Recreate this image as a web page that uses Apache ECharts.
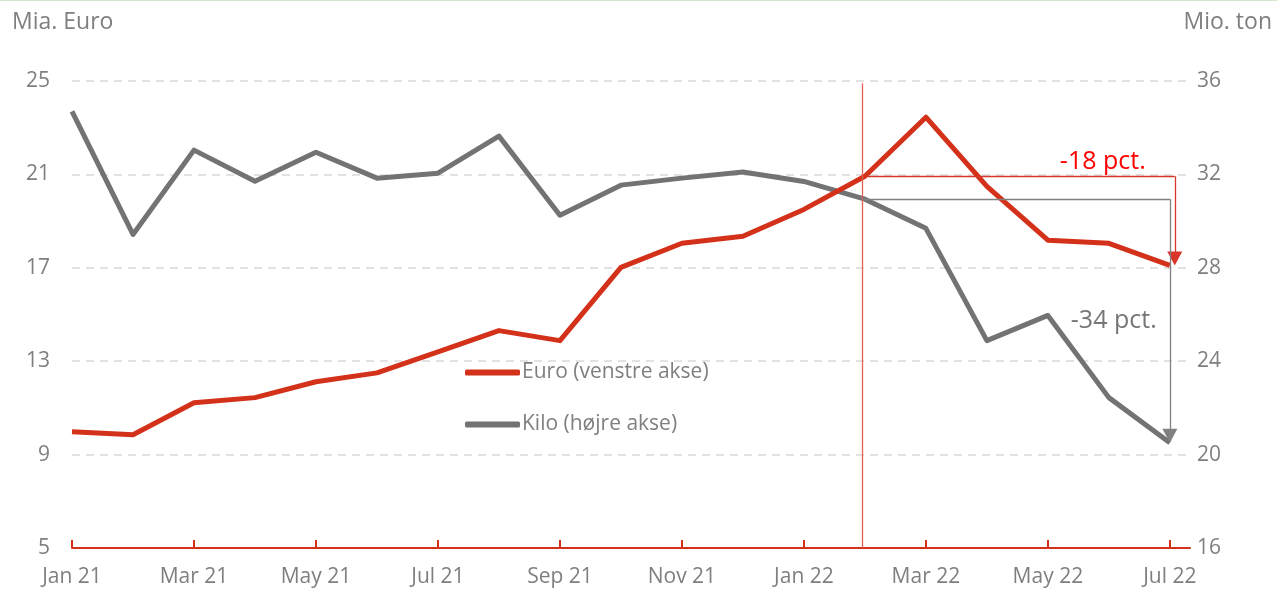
<!DOCTYPE html>
<html>
<head>
<meta charset="utf-8">
<script src="https://cdn.jsdelivr.net/npm/echarts@6/dist/echarts.min.js"></script>
<style>
  html, body { margin: 0; padding: 0; background: #fff; }
  #chart { width: 1277px; height: 589px; border-top: 1px solid #d6e8cb; }
</style>
</head>
<body>
<div id="chart"></div>
<script>
// months on the x axis
const months = ['Jan 21', 'Feb 21', 'Mar 21', 'Apr 21', 'May 21', 'Jun 21', 'Jul 21', 'Aug 21', 'Sep 21',
  'Oct 21', 'Nov 21', 'Dec 21', 'Jan 22', 'Feb 22', 'Mar 22', 'Apr 22', 'May 22', 'Jun 22', 'Jul 22']

// Mia. Euro (venstre akse)
const euro = [9.98, 9.85, 11.22, 11.44, 12.12, 12.5, 13.4, 14.31, 13.88,
  17.02, 18.05, 18.35, 19.5, 20.92, 23.45, 20.49, 18.18, 18.05, 17.1]

// Mio. ton (højre akse)
const kilo = [34.7, 29.43, 33.04, 31.71, 32.95, 31.84, 32.05, 33.64, 30.25,
  31.54, 31.84, 32.1, 31.7, 30.94, 29.69, 24.88, 25.96, 22.44, 20.51]

const leftTicks = [5, 25, 4]    // min, max, step
const rightTicks = [16, 36, 4]

const labelIdx = months.map((m, i) => i).filter(i => i % 2 === 0)

const RED = '#d4311a'
const GREY = '#737373'
const TXT = '#7f7f7f'
const FONT = 'Open Sans'

const chart = echarts.init(document.getElementById('chart'), null, { renderer: 'canvas' })

const euroData = euro.map((v, i) => [i, v])
const kiloData = kilo.map((v, i) => [i, v])
const febIdx = months.indexOf('Feb 22')
const lastIdx = months.length - 1

chart.setOption({
  animation: false,
  backgroundColor: '#fff',
  textStyle: { fontFamily: FONT },
  title: [
    { text: 'Mia. Euro', left: 7, top: 5, textStyle: { color: TXT, fontSize: 23, fontWeight: 'normal', fontFamily: FONT } },
    { text: 'Mio. ton', right: 0, top: 5, textStyle: { color: TXT, fontSize: 23, fontWeight: 'normal', fontFamily: FONT } }
  ],
  grid: { left: 72, right: 87, top: 80, bottom: 42 },
  legend: {
    orient: 'vertical',
    left: 460,
    top: 356,
    itemWidth: 55,
    itemHeight: 6,
    itemGap: 31,
    icon: 'roundRect',
    textStyle: { color: TXT, fontSize: 21, fontFamily: FONT, padding: [0, 0, 0, -3] },
    data: ['Euro (venstre akse)', 'Kilo (højre akse)']
  },
  xAxis: {
    type: 'value',
    min: 0,
    max: 18.33,
    axisLine: { lineStyle: { color: RED, width: 2 } },
    axisTick: { show: true, inside: true, length: 8, customValues: labelIdx, lineStyle: { color: RED, width: 2 } },
    axisLabel: {
      customValues: labelIdx,
      formatter: v => months[v],
      color: TXT,
      fontSize: 21,
      margin: 19
    },
    splitLine: { show: false }
  },
  yAxis: [
    {
      type: 'value',
      min: leftTicks[0],
      max: leftTicks[1],
      interval: leftTicks[2],
      axisLine: { show: false },
      axisTick: { show: false },
      axisLabel: { color: TXT, fontSize: 21, margin: 22 },
      splitLine: { lineStyle: { color: '#d9d9d9', width: 1.5, type: [8, 6] } }
    },
    {
      type: 'value',
      min: rightTicks[0],
      max: rightTicks[1],
      interval: rightTicks[2],
      axisLine: { show: false },
      axisTick: { show: false },
      axisLabel: { color: TXT, fontSize: 21, margin: 7 },
      splitLine: { show: false }
    }
  ],
  series: [
    {
      name: 'Euro (venstre akse)',
      type: 'line',
      yAxisIndex: 0,
      data: euroData,
      showSymbol: false,
      silent: true,
      z: 3,
      itemStyle: { color: RED },
      lineStyle: { color: RED, width: 5, join: 'round' },
      markLine: {
        silent: true,
        animation: false,
        label: { show: false },
        data: [
          [
            { coord: [12.95, leftTicks[0]], symbol: 'none', lineStyle: { color: '#e0624f', width: 1.3, type: 'solid' } },
            { coord: [12.95, 24.9], symbol: 'none' }
          ],
          [
            { coord: [febIdx + 0.05, euro[febIdx]], symbol: 'none', lineStyle: { color: '#d9362a', width: 1.3, type: 'solid' } },
            { coord: [lastIdx + 0.08, euro[febIdx]], symbol: 'none' }
          ],
          [
            { coord: [lastIdx + 0.08, euro[febIdx]], symbol: 'none', lineStyle: { color: '#d9362a', width: 1.3, type: 'solid' } },
            { coord: [lastIdx + 0.08, euro[lastIdx] + 0.3], symbol: 'triangle', symbolSize: [15, 14] }
          ]
        ]
      },
      markPoint: {
        silent: true,
        symbol: 'circle',
        symbolSize: 0,
        data: [
          { coord: [16.9, 21.52], label: { show: true, formatter: '-18 pct.', color: '#ff0000', fontSize: 25, fontFamily: FONT } }
        ]
      }
    },
    {
      name: 'Kilo (højre akse)',
      type: 'line',
      yAxisIndex: 1,
      data: kiloData,
      showSymbol: false,
      silent: true,
      z: 2,
      itemStyle: { color: GREY },
      lineStyle: { color: GREY, width: 5, join: 'round' },
      markLine: {
        silent: true,
        animation: false,
        label: { show: false },
        data: [
          [
            { coord: [12.95, kilo[febIdx]], symbol: 'none', lineStyle: { color: '#808080', width: 1.3, type: 'solid' } },
            { coord: [lastIdx, kilo[febIdx]], symbol: 'none' }
          ],
          [
            { coord: [lastIdx, kilo[febIdx]], symbol: 'none', lineStyle: { color: '#808080', width: 1.3, type: 'solid' } },
            { coord: [lastIdx, kilo[lastIdx] + 0.3], symbol: 'triangle', symbolSize: [15, 14] }
          ]
        ]
      },
      markPoint: {
        silent: true,
        symbol: 'circle',
        symbolSize: 0,
        data: [
          { coord: [17.08, 25.74], label: { show: true, formatter: '-34 pct.', color: '#767676', fontSize: 25, fontFamily: FONT } }
        ]
      }
    }
  ]
})
</script>
</body>
</html>
